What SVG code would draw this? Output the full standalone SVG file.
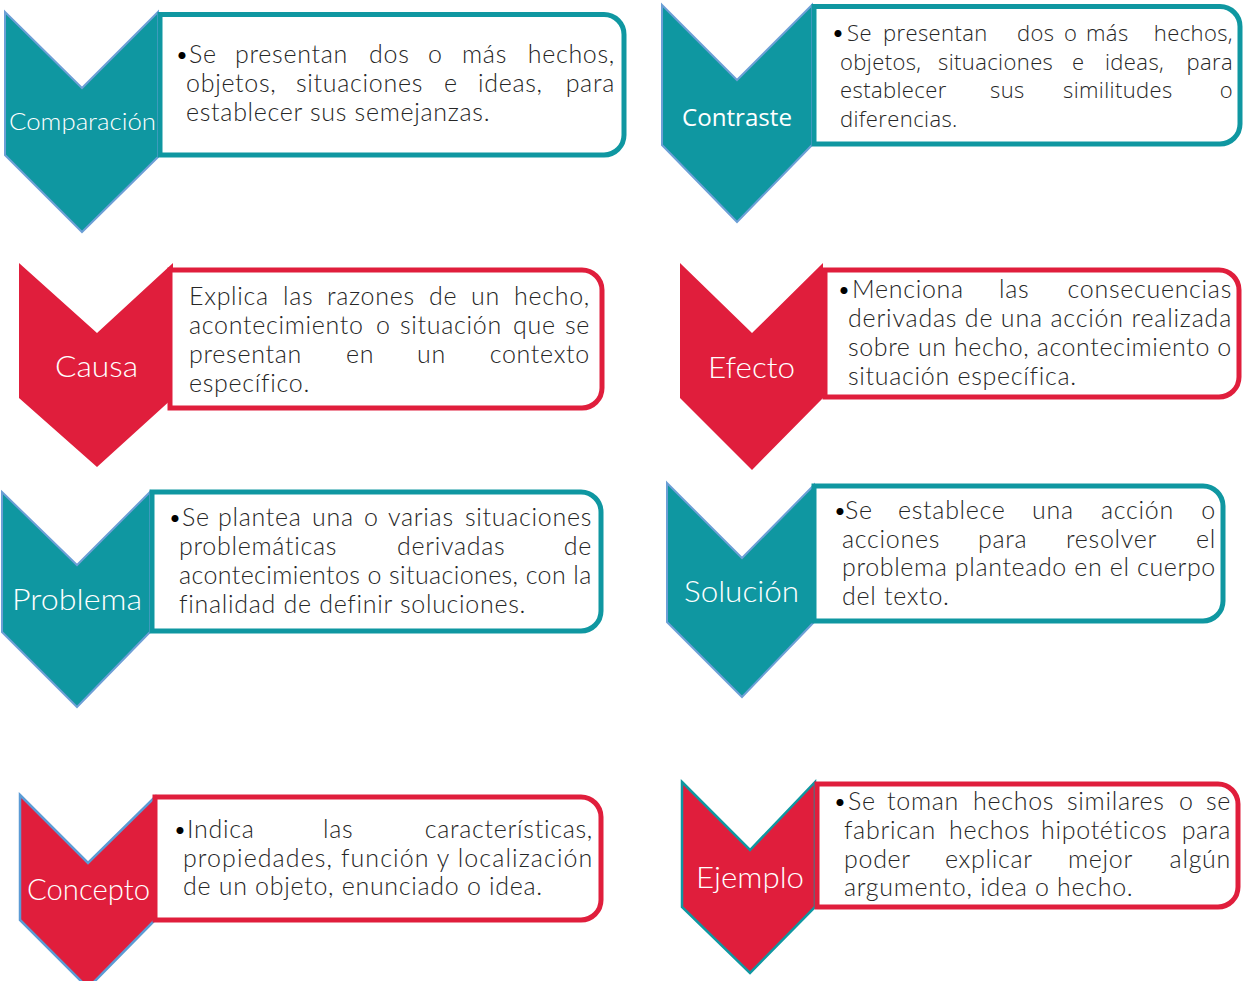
<svg xmlns="http://www.w3.org/2000/svg" width="1246" height="981" viewBox="0 0 1246 981">
<style>
.teal{fill:#0f97a1}
.red{fill:#e01e3c}
.sb{stroke:#6c9fd6;stroke-width:2;stroke-linejoin:miter}
.sb2{stroke:#5b9bd5;stroke-width:2.5}
.st{stroke:#0f97a1;stroke-width:2.5}
.boxT{fill:#fff;stroke:#0f97a1;stroke-width:5}
.boxR{fill:#fff;stroke:#e01e3c;stroke-width:5}
.lbl{fill:#fff;font-family:Lato,"Liberation Sans",sans-serif;font-weight:300}
.lbl2{fill:#fff;font-family:"Open Sans","Noto Sans",sans-serif;font-size:24px}
.tx{fill:#262626;font-family:Lato,"Liberation Sans",sans-serif;font-weight:300;font-size:25px;letter-spacing:0.7px}
.tx2{fill:#262626;font-family:"Open Sans","Noto Sans",sans-serif;font-weight:300;font-size:22px;letter-spacing:0.4px}
.e{text-anchor:end}
.b{fill:#000;font-family:Lato,"Liberation Sans",sans-serif;font-size:24px;letter-spacing:0}
</style>

<g id="comparacion">
<polygon class="teal sb" points="5,12 82,88 158,12 158,157 82,232 5,155"/>
<path class="boxT" d="M160,14.5 H604 A20,20 0 0 1 624,34.5 V135 A20,20 0 0 1 604,155 H160 Z"/>
<text class="lbl" x="9" y="130" font-size="24" textLength="147" lengthAdjust="spacingAndGlyphs">Comparación</text>
<text class="tx"><tspan class="b" x="175" y="63">•</tspan><tspan x="189" y="63">Se</tspan><tspan x="235" y="63">presentan</tspan><tspan x="369" y="63">dos</tspan><tspan x="428" y="63">o</tspan><tspan x="462" y="63">más</tspan><tspan class="e" x="615" y="63">hechos,</tspan></text>
<text class="tx"><tspan x="186" y="92">objetos,</tspan><tspan x="296" y="92">situaciones</tspan><tspan x="444" y="92">e</tspan><tspan x="478" y="92">ideas,</tspan><tspan class="e" x="615" y="92">para</tspan></text>
<text class="tx" x="186" y="121">establecer sus semejanzas.</text>
</g>

<g id="contraste">
<polygon class="teal sb" points="662,5 737,80 812,5 812,145 737,222 662,145"/>
<path class="boxT" d="M814,6.5 H1220 A20,20 0 0 1 1240,26.5 V124 A20,20 0 0 1 1220,144 H814 Z"/>
<text class="lbl2" x="682" y="126" textLength="110" lengthAdjust="spacingAndGlyphs">Contraste</text>
<text class="tx2"><tspan class="b" x="831" y="41">•</tspan><tspan x="847" y="41">Se</tspan><tspan x="883" y="41">presentan</tspan><tspan x="1017" y="41">dos</tspan><tspan x="1064" y="41">o</tspan><tspan x="1086" y="41">más</tspan><tspan class="e" x="1233" y="41">hechos,</tspan></text>
<text class="tx2"><tspan x="840" y="69.5">objetos,</tspan><tspan x="938" y="69.5">situaciones</tspan><tspan x="1072" y="69.5">e</tspan><tspan x="1105" y="69.5">ideas,</tspan><tspan class="e" x="1233" y="69.5">para</tspan></text>
<text class="tx2"><tspan x="840" y="98">establecer</tspan><tspan x="990" y="98">sus</tspan><tspan x="1063" y="98">similitudes</tspan><tspan class="e" x="1233" y="98">o</tspan></text>
<text class="tx2" x="840" y="126.5">diferencias.</text>
</g>

<g id="causa">
<polygon class="red" points="19,263 97,333 173,263 173,398 97,467 19,398"/>
<path class="boxR" d="M170,270 H582 A20,20 0 0 1 602,290 V388 A20,20 0 0 1 582,408 H170 Z"/>
<text class="lbl" x="55" y="377" font-size="30" textLength="83" lengthAdjust="spacingAndGlyphs">Causa</text>
<text class="tx"><tspan x="189" y="305">Explica</tspan><tspan x="283" y="305">las</tspan><tspan x="327" y="305">razones</tspan><tspan x="429" y="305">de</tspan><tspan x="471" y="305">un</tspan><tspan class="e" x="590" y="305">hecho,</tspan></text>
<text class="tx"><tspan x="189" y="334">acontecimiento</tspan><tspan x="376" y="334">o</tspan><tspan x="400" y="334">situación</tspan><tspan x="513" y="334">que</tspan><tspan class="e" x="590" y="334">se</tspan></text>
<text class="tx"><tspan x="189" y="363">presentan</tspan><tspan x="346" y="363">en</tspan><tspan x="417" y="363">un</tspan><tspan class="e" x="590" y="363">contexto</tspan></text>
<text class="tx" x="189" y="392">específico.</text>
</g>

<g id="efecto">
<polygon class="red" points="680,263 752,333 823,263 823,398 752,470 680,398"/>
<path class="boxR" d="M825,270 H1219 A20,20 0 0 1 1239,290 V377 A20,20 0 0 1 1219,397 H825 Z"/>
<text class="lbl" x="708" y="378" font-size="30" textLength="87" lengthAdjust="spacingAndGlyphs">Efecto</text>
<text class="tx"><tspan class="b" x="837" y="298">•</tspan><tspan x="852" y="298">Menciona</tspan><tspan x="999" y="298">las</tspan><tspan class="e" x="1232" y="298">consecuencias</tspan></text>
<text class="tx" x="848" y="327" textLength="384" lengthAdjust="spacing">derivadas de una acción realizada</text>
<text class="tx" x="848" y="356" textLength="384" lengthAdjust="spacing">sobre un hecho, acontecimiento o</text>
<text class="tx" x="848" y="385">situación específica.</text>
</g>

<g id="problema">
<polygon class="teal sb" points="2,492 77,565 150,492 150,632 77,707 2,632"/>
<path class="boxT" d="M152,492 H581 A20,20 0 0 1 601,512 V611 A20,20 0 0 1 581,631 H152 Z"/>
<text class="lbl" x="12" y="610" font-size="30" textLength="130" lengthAdjust="spacingAndGlyphs">Problema</text>
<text class="tx"><tspan class="b" x="168" y="526">•</tspan><tspan x="182" y="526">Se</tspan><tspan x="218" y="526">plantea</tspan><tspan x="312" y="526">una</tspan><tspan x="364" y="526">o</tspan><tspan x="388" y="526">varias</tspan><tspan class="e" x="592" y="526">situaciones</tspan></text>
<text class="tx"><tspan x="179" y="555">problemáticas</tspan><tspan x="397" y="555">derivadas</tspan><tspan class="e" x="592" y="555">de</tspan></text>
<text class="tx" x="179" y="584" textLength="413" lengthAdjust="spacing">acontecimientos o situaciones, con la</text>
<text class="tx" x="179" y="613">finalidad de definir soluciones.</text>
</g>

<g id="solucion">
<polygon class="teal sb" points="667,483 742,558 814,485 814,622 742,697 667,622"/>
<path class="boxT" d="M814,486 H1203 A20,20 0 0 1 1223,506 V601 A20,20 0 0 1 1203,621 H814 Z"/>
<text class="lbl" x="684" y="602" font-size="30" textLength="115" lengthAdjust="spacingAndGlyphs">Solución</text>
<text class="tx"><tspan class="b" x="833" y="519">•</tspan><tspan x="845" y="519">Se</tspan><tspan x="898" y="519">establece</tspan><tspan x="1032" y="519">una</tspan><tspan x="1101" y="519">acción</tspan><tspan class="e" x="1216" y="519">o</tspan></text>
<text class="tx"><tspan x="842" y="548">acciones</tspan><tspan x="978" y="548">para</tspan><tspan x="1066" y="548">resolver</tspan><tspan class="e" x="1216" y="548">el</tspan></text>
<text class="tx" x="842" y="576" textLength="374" lengthAdjust="spacing">problema planteado en el cuerpo</text>
<text class="tx" x="842" y="605">del texto.</text>
</g>

<g id="concepto">
<polygon class="red sb2" points="20,795 88,863 155,797 155,920 88,988 20,920"/>
<path class="boxR" d="M155,797 H581 A20,20 0 0 1 601,817 V900 A20,20 0 0 1 581,920 H155 Z"/>
<text class="lbl" x="27" y="900" font-size="29" textLength="123" lengthAdjust="spacingAndGlyphs">Concepto</text>
<text class="tx"><tspan class="b" x="173" y="838">•</tspan><tspan x="187" y="838">Indica</tspan><tspan x="323" y="838">las</tspan><tspan class="e" x="593" y="838">características,</tspan></text>
<text class="tx" x="183" y="867" textLength="410" lengthAdjust="spacing">propiedades, función y localización</text>
<text class="tx" x="183" y="895">de un objeto, enunciado o idea.</text>
</g>

<g id="ejemplo">
<polygon class="red st" points="682,782 750,850 815,782 815,907 750,973 682,907"/>
<path class="boxR" d="M817,784 H1218 A20,20 0 0 1 1238,804 V887 A20,20 0 0 1 1218,907 H817 Z"/>
<text class="lbl" x="696" y="888" font-size="29" textLength="108" lengthAdjust="spacingAndGlyphs">Ejemplo</text>
<text class="tx"><tspan class="b" x="833" y="810">•</tspan><tspan x="848" y="810">Se</tspan><tspan x="887" y="810">toman</tspan><tspan x="973" y="810">hechos</tspan><tspan x="1067" y="810">similares</tspan><tspan x="1179" y="810">o</tspan><tspan class="e" x="1231" y="810">se</tspan></text>
<text class="tx"><tspan x="844" y="839">fabrican</tspan><tspan x="949" y="839">hechos</tspan><tspan x="1041" y="839">hipotéticos</tspan><tspan class="e" x="1231" y="839">para</tspan></text>
<text class="tx"><tspan x="844" y="868">poder</tspan><tspan x="945" y="868">explicar</tspan><tspan x="1068" y="868">mejor</tspan><tspan class="e" x="1231" y="868">algún</tspan></text>
<text class="tx" x="844" y="896">argumento, idea o hecho.</text>
</g>

<g id="connectors"></g>
</svg>
